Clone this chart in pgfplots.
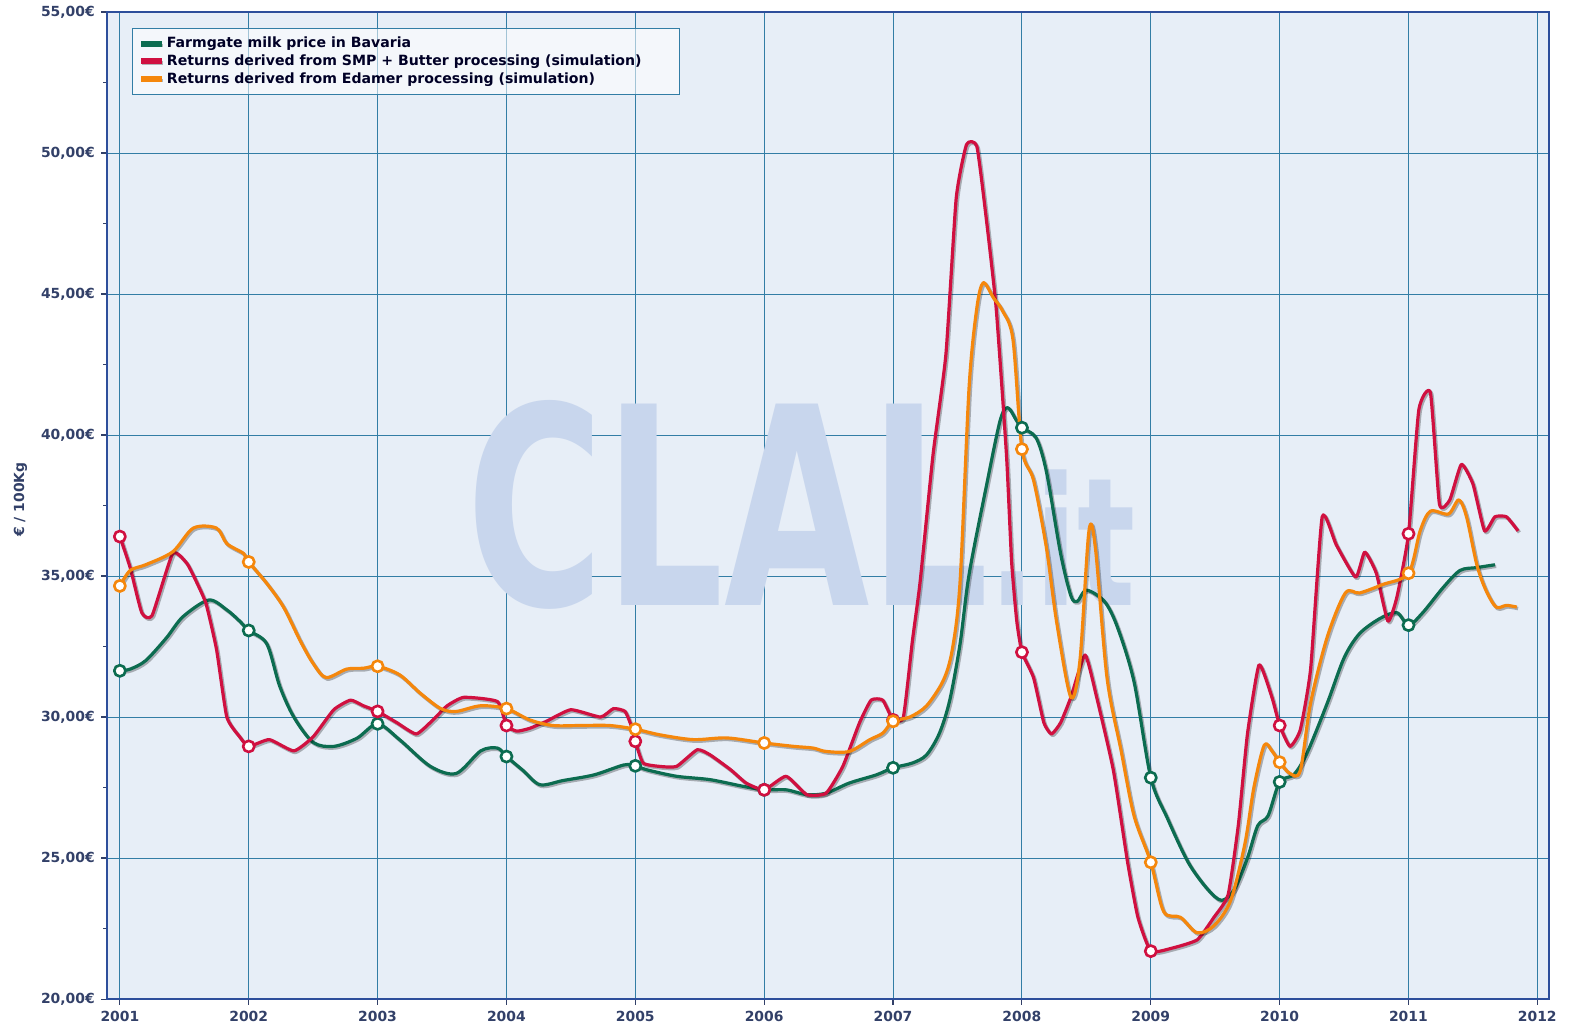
\documentclass[border=0pt]{standalone}
\usepackage{fontspec}
\setmainfont{DejaVu Sans}
\usepackage{pgfplots}
\pgfplotsset{compat=1.18}
\pgfdeclarelayer{wm}
\pgfplotsset{layers/wmlayers/.define layer set={axis background,wm,axis grid,axis ticks,axis lines,axis tick labels,main,axis descriptions,axis foreground}{}}
\definecolor{milk}{RGB}{12,108,80}
\definecolor{smp}{RGB}{208,16,64}
\definecolor{edam}{RGB}{245,135,12}
\definecolor{bgfill}{RGB}{231,238,247}
\definecolor{axblue}{RGB}{45,78,155}
\definecolor{gridc}{RGB}{50,125,165}
\definecolor{tickc}{RGB}{50,64,104}
\definecolor{wmcol}{RGB}{200,214,237}
\tikzset{shad/.style={preaction={draw=black, draw opacity=0.28, line width=1.9pt,
  transform canvas={xshift=0.7pt,yshift=-0.8pt}}}}

\begin{document}
\begin{tikzpicture}
\begin{axis}[
  set layers=wmlayers,
  width=767pt, height=525pt, scale only axis,
  xmin=2000.9, xmax=2012.09, ymin=20, ymax=55,
  xtick={2001,2002,...,2012}, ytick={20,25,...,55},
  minor y tick num=1,
  xtick pos=left, ytick pos=left,
  tick align=outside, major tick length=3pt, minor tick length=2pt,
  tick style={draw=tickc, line width=0.6pt},
  grid=major,
  major grid style={draw=gridc, line width=0.5pt},
  axis background/.style={fill=bgfill},
  axis line style={draw=axblue, line width=1.4pt},
  ticklabel style={font=\bfseries\fontsize{7.4}{8}\selectfont, text=tickc},
  xticklabel={\pgfmathprintnumber[1000 sep={},assume math mode=true]{\tick}},
  yticklabel={\pgfmathprintnumber[fixed,fixed zerofill,precision=2,use comma,assume math mode=true]{\tick}€},
  ylabel={€ / 100Kg},
  every axis y label/.style={at={(axis description cs:0,0.506)}, xshift=-46pt, rotate=90, anchor=center,
    font=\bfseries\fontsize{7.4}{8}\selectfont, text=tickc},
  every axis plot/.append style={line width=1.7pt, line join=round},
  legend image code/.code={\draw[#1, line width=3.2pt, preaction={}] (0pt,0pt) -- (11pt,0pt);},
  legend cell align=left,
  legend style={at={(axis description cs:0.0173,0.984)}, anchor=north west,
    draw=gridc, line width=0.6pt, fill=white, fill opacity=0.55, text opacity=1,
    inner xsep=3pt, inner ysep=3.5pt,
    font=\bfseries\fontsize{7.5}{8}\selectfont, text=black!85!blue,
    nodes={inner sep=1.1pt}},
]
\node[on layer=wm, anchor=base west, xscale=0.68, text=wmcol, inner sep=0pt,
  font=\bfseries\fontsize{147}{150}\selectfont] at (axis cs:2003.69,33.97) {CLAL{\fontsize{95}{100}\selectfont.it}};

\addplot[milk, smooth, tension=0.5, shad] coordinates {
(2001.00,31.64) (2001.08,31.7) (2001.20,32.0) (2001.36,32.8) (2001.49,33.56)
(2001.69,34.15) (2001.83,33.8) (2001.93,33.4) (2002.00,33.07) (2002.14,32.6)
(2002.24,31.1) (2002.35,30.0) (2002.50,29.1) (2002.66,28.96) (2002.84,29.25)
(2003.00,29.76) (2003.17,29.2) (2003.41,28.25) (2003.61,28.0) (2003.80,28.8)
(2003.93,28.9) (2004.00,28.6) (2004.13,28.1) (2004.26,27.6) (2004.44,27.75)
(2004.68,27.95) (2004.91,28.3) (2005.00,28.27) (2005.09,28.13) (2005.32,27.9)
(2005.58,27.78) (2005.84,27.54) (2006.00,27.42) (2006.17,27.42) (2006.33,27.25)
(2006.48,27.3) (2006.66,27.66) (2006.87,27.95) (2007.00,28.2) (2007.15,28.37)
(2007.26,28.66) (2007.36,29.43) (2007.44,30.6) (2007.52,32.6) (2007.59,35.06)
(2007.72,38.1) (2007.83,40.5) (2007.89,40.97) (2007.96,40.5) (2008.00,40.26)
(2008.11,39.9) (2008.19,38.7) (2008.30,35.8) (2008.38,34.3) (2008.43,34.1)
(2008.50,34.5) (2008.64,34.1) (2008.74,33.2) (2008.87,31.25) (2009.00,27.85)
(2009.13,26.4) (2009.29,24.85) (2009.44,23.9) (2009.55,23.5) (2009.65,23.9)
(2009.75,25.0) (2009.83,26.15) (2009.91,26.5) (2010.00,27.7) (2010.11,27.96)
(2010.21,28.7) (2010.37,30.5) (2010.50,32.1) (2010.62,32.96) (2010.78,33.5)
(2010.91,33.7) (2011.00,33.26) (2011.11,33.7) (2011.27,34.6) (2011.40,35.2)
(2011.53,35.3) (2011.67,35.4)
};
\addlegendentry{Farmgate milk price in Bavaria}

\addplot[smp, smooth, tension=0.3, shad] coordinates {
(2001.00,36.4) (2001.08,35.3) (2001.17,33.7) (2001.25,33.6) (2001.41,35.8)
(2001.52,35.45) (2001.60,34.74) (2001.67,34.0) (2001.75,32.4) (2001.83,30.0)
(2001.93,29.3) (2002.00,28.96) (2002.16,29.2) (2002.35,28.8) (2002.50,29.3)
(2002.66,30.26) (2002.79,30.6) (2002.89,30.4) (2003.00,30.2) (2003.15,29.8)
(2003.30,29.4) (2003.43,29.9) (2003.54,30.4) (2003.67,30.7) (2003.93,30.55)
(2004.00,29.7) (2004.08,29.5) (2004.18,29.6) (2004.31,29.85) (2004.50,30.26)
(2004.73,30.0) (2004.83,30.3) (2004.92,30.2) (2004.97,29.67) (2005.00,29.14)
(2005.06,28.37) (2005.19,28.25) (2005.32,28.25) (2005.48,28.84) (2005.58,28.66)
(2005.74,28.13) (2005.86,27.66) (2006.00,27.42) (2006.17,27.9) (2006.33,27.25)
(2006.48,27.3) (2006.61,28.25) (2006.74,29.8) (2006.83,30.6) (2006.92,30.6)
(2007.00,29.9) (2007.08,30.0) (2007.15,32.7) (2007.21,34.8) (2007.31,39.3)
(2007.41,42.86) (2007.49,48.4) (2007.57,50.3) (2007.65,50.24) (2007.72,47.8)
(2007.80,44.5) (2007.88,39.3) (2007.92,35.5) (2007.96,33.4) (2008.00,32.3)
(2008.09,31.4) (2008.17,29.8) (2008.23,29.4) (2008.30,29.8) (2008.38,30.7)
(2008.49,32.2) (2008.58,30.7) (2008.71,28.1) (2008.82,24.85) (2008.90,22.9)
(2009.00,21.7) (2009.16,21.8) (2009.36,22.1) (2009.49,22.9) (2009.60,23.7)
(2009.68,26.2) (2009.75,29.4) (2009.84,31.85) (2009.94,30.7) (2010.00,29.7)
(2010.08,28.96) (2010.16,29.55) (2010.24,31.7) (2010.33,37.1) (2010.44,36.1)
(2010.59,34.96) (2010.66,35.85) (2010.75,35.1) (2010.84,33.4) (2010.91,34.26)
(2011.00,36.5) (2011.08,40.9) (2011.17,41.5) (2011.24,37.55) (2011.32,37.7)
(2011.41,38.96) (2011.50,38.26) (2011.59,36.6) (2011.67,37.1) (2011.76,37.1)
(2011.85,36.6)
};
\addlegendentry{Returns derived from SMP + Butter processing (simulation)\hspace*{16pt}}

\addplot[edam, smooth, tension=0.5, shad] coordinates {
(2001.00,34.65) (2001.08,35.2) (2001.20,35.4) (2001.41,35.86) (2001.57,36.7)
(2001.75,36.7) (2001.83,36.15) (2001.96,35.8) (2002.00,35.5) (2002.14,34.74)
(2002.27,33.9) (2002.40,32.7) (2002.50,31.9) (2002.60,31.4) (2002.76,31.7)
(2002.89,31.73) (2003.00,31.8) (2003.17,31.5) (2003.33,30.85) (2003.49,30.3)
(2003.61,30.2) (2003.80,30.4) (2004.00,30.3) (2004.18,29.9) (2004.36,29.7)
(2004.57,29.7) (2004.80,29.7) (2005.00,29.57) (2005.19,29.37) (2005.45,29.2)
(2005.71,29.26) (2006.00,29.08) (2006.23,28.96) (2006.38,28.9) (2006.48,28.78)
(2006.66,28.78) (2006.82,29.2) (2006.92,29.43) (2007.00,29.85) (2007.13,30.0)
(2007.26,30.4) (2007.39,31.3) (2007.46,32.4) (2007.52,34.8) (2007.59,41.7)
(2007.65,44.5) (2007.70,45.4) (2007.78,44.86) (2007.85,44.4) (2007.93,43.4)
(2008.00,39.5) (2008.09,38.4) (2008.19,36.0) (2008.27,33.35) (2008.38,30.7)
(2008.45,32.0) (2008.52,36.6) (2008.57,36.0) (2008.66,31.4) (2008.77,28.8)
(2008.87,26.5) (2009.00,24.85) (2009.10,23.1) (2009.23,22.9) (2009.36,22.35)
(2009.49,22.6) (2009.62,23.5) (2009.73,25.5) (2009.80,27.5) (2009.88,29.0)
(2009.94,28.8) (2010.00,28.4) (2010.08,28.0) (2010.16,28.1) (2010.24,30.5)
(2010.37,32.85) (2010.51,34.4) (2010.62,34.4) (2010.80,34.7) (2011.00,35.1)
(2011.09,36.6) (2011.17,37.3) (2011.31,37.2) (2011.39,37.7) (2011.45,37.1)
(2011.53,35.4) (2011.60,34.5) (2011.68,33.9) (2011.76,33.96) (2011.84,33.9)
};
\addlegendentry{Returns derived from Edamer processing (simulation)}

% yearly markers
\addplot[only marks, mark=*, mark size=3pt, forget plot,
  mark options={fill=white, draw=milk, line width=1.4pt}] coordinates {
(2001,31.64) (2002,33.07) (2003,29.76) (2004,28.6) (2005,28.27) (2006,27.42)
(2007,28.2) (2008,40.26) (2009,27.85) (2010,27.7) (2011,33.26)};
\addplot[only marks, mark=*, mark size=3pt, forget plot,
  mark options={fill=white, draw=smp, line width=1.4pt}] coordinates {
(2001,36.4) (2002,28.96) (2003,30.2) (2004,29.7) (2005,29.14) (2006,27.42)
(2007,29.9) (2008,32.3) (2009,21.7) (2010,29.7) (2011,36.5)};
\addplot[only marks, mark=*, mark size=3pt, forget plot,
  mark options={fill=white, draw=edam, line width=1.4pt}] coordinates {
(2001,34.65) (2002,35.5) (2003,31.8) (2004,30.3) (2005,29.57) (2006,29.08)
(2007,29.85) (2008,39.5) (2009,24.85) (2010,28.4) (2011,35.1)};

\node[anchor=base, yshift=4.3pt, font=\fontsize{7.3}{8}\selectfont, text=black!75]
  at (rel axis cs:0.507,1) {Processed by Clal};
\end{axis}
\pgfresetboundingbox
\path ([xshift=-56.9pt,yshift=-16.5pt]current axis.south west) rectangle ([xshift=13.3pt,yshift=6.4pt]current axis.north east);
\end{tikzpicture}
\end{document}
